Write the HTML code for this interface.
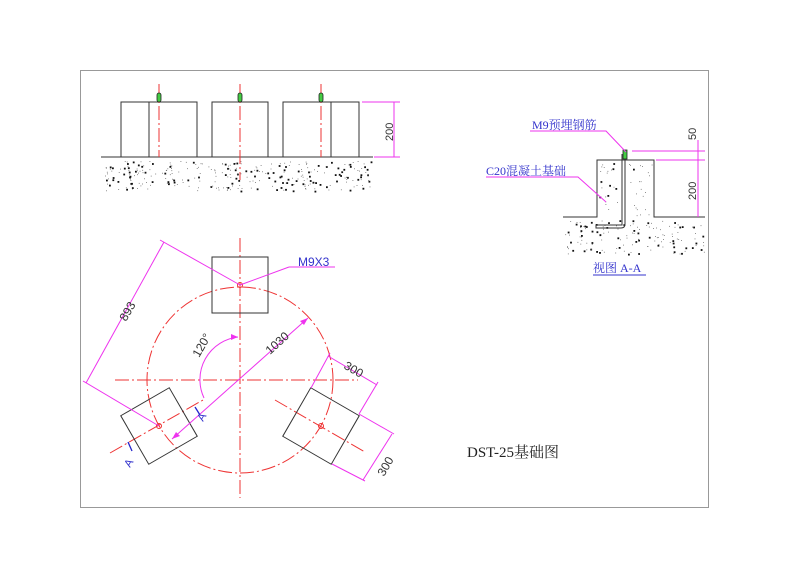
<!DOCTYPE html>
<html><head><meta charset="utf-8"><style>html,body{margin:0;padding:0;background:#fff}svg{display:block}</style></head><body>
<svg id="s" width="800" height="565" viewBox="0 0 800 565" xmlns="http://www.w3.org/2000/svg" font-family="Liberation Sans, sans-serif">
<rect x="80.5" y="70.5" width="628" height="437" fill="none" stroke="#999" stroke-width="1"/>
<g id="grav"></g>
<g stroke="#333" fill="none" stroke-width="1">
<line x1="101" y1="157" x2="373" y2="157"/>
<rect x="121" y="102" width="76" height="55"/><line x1="149" y1="102" x2="149" y2="157"/>
<rect x="212" y="102" width="56" height="55"/>
<rect x="283" y="102" width="76" height="55"/><line x1="331" y1="102" x2="331" y2="157"/>
</g>
<g stroke="#e33" stroke-width="1" stroke-dasharray="14,3,2,3">
<line x1="159" y1="84" x2="159" y2="157"/><line x1="240" y1="84" x2="240" y2="180"/><line x1="321" y1="84" x2="321" y2="157"/>
</g>
<g fill="#4c4" stroke="#222" stroke-width="0.8">
<rect x="157" y="93" width="4" height="9" rx="2"/><rect x="238" y="93" width="4" height="9" rx="2"/><rect x="319" y="93" width="4" height="9" rx="2"/>
</g>
<g stroke="#e3e" stroke-width="1">
<line x1="362" y1="102" x2="400" y2="102"/><line x1="374" y1="157" x2="400" y2="157"/><line x1="394" y1="102" x2="394" y2="157"/>
</g>
<text x="0" y="0" font-size="11" fill="#333" transform="translate(393,141) rotate(-90)">200</text>
<g stroke="#e33" fill="none" stroke-width="1" stroke-dasharray="14,3,2,3">
<circle cx="240" cy="380" r="93"/>
<line x1="240" y1="238" x2="240" y2="498"/>
<line x1="115" y1="380" x2="358" y2="380"/>
<line x1="110" y1="453" x2="203" y2="400"/>
<line x1="275" y1="400" x2="365" y2="452"/>
</g>
<g stroke="#333" fill="none" stroke-width="1">
<rect x="212" y="257" width="56" height="56"/>
<rect x="131" y="398" width="56" height="56" transform="rotate(-30 159 426)"/>
<rect x="293" y="398" width="56" height="56" transform="rotate(30 321 426)"/>
</g>
<g stroke="#e33" fill="none" stroke-width="1"><circle cx="240" cy="285" r="2.5"/><circle cx="159" cy="426" r="2.5"/><circle cx="321" cy="426" r="2.5"/></g>
<g stroke="#e3e" fill="none" stroke-width="1">
<line x1="240" y1="285" x2="289" y2="267"/><line x1="289" y1="267" x2="335" y2="267"/>
<line x1="172" y1="439" x2="308" y2="318"/>
<line x1="86" y1="383" x2="164" y2="242"/>
<line x1="160" y1="240" x2="240" y2="285"/><line x1="83" y1="381" x2="159" y2="426"/>
<path d="M238 337 A43 43 0 0 0 204 398"/>
<line x1="328" y1="356" x2="377" y2="385"/><line x1="311" y1="388" x2="330" y2="353"/><line x1="359" y1="414" x2="378" y2="382"/>
<line x1="392" y1="434" x2="363" y2="480"/><line x1="359" y1="414" x2="394" y2="434"/><line x1="332" y1="464" x2="365" y2="481"/>
</g>
<g fill="#e3e"><path d="M238 337 L231 334 L231 340Z"/><path d="M172 439 L180 436 L176 432Z"/><path d="M308 318 L300 321 L304 325Z"/></g>
<g font-size="12" fill="#333">
<text transform="translate(126,322) rotate(-60)">893</text>
<text transform="translate(270,355) rotate(-42)">1030</text>
<text transform="translate(199,358) rotate(-60)">120°</text>
<text transform="translate(343,368) rotate(30)">300</text>
<text transform="translate(384,477) rotate(-60)">300</text>
</g>
<text x="298" y="266" font-size="12" fill="#33c">M9X3</text>
<g stroke="#22c" stroke-width="1.3"><line x1="195" y1="407" x2="200" y2="415"/><line x1="128" y1="442" x2="132" y2="451"/></g>
<g font-size="11" fill="#33c"><text transform="translate(203,422) rotate(-60)">A</text><text transform="translate(130,468) rotate(-60)">A</text></g>
<g stroke="#333" fill="none" stroke-width="1">
<polyline points="563,217 597,217 597,160 654,160 654,217 705,217"/>
<path d="M625 154 L625 224 Q625 228 621 228 L596 228 L596 225 L622 225 L622 154"/>
</g>
<rect x="623" y="150" width="4" height="9" fill="#4c4" stroke="#222" stroke-width="0.8"/>
<g stroke="#e3e" stroke-width="1" fill="none">
<line x1="632" y1="151" x2="705" y2="151"/><line x1="656" y1="160" x2="705" y2="160"/><line x1="698" y1="140" x2="698" y2="217"/>
<polyline points="530,131 606,131 626,152"/><polyline points="486,177 578,177 606,202"/>
</g>
<g font-size="11" fill="#333"><text transform="translate(696,140) rotate(-90)">50</text><text transform="translate(696,200) rotate(-90)">200</text></g>
<g font-family="Liberation Serif, Noto Serif CJK SC, serif" fill="#33c" font-size="12">
<text x="532" y="129">M9预埋钢筋</text>
<text x="486" y="175">C20混凝土基础</text>
<text x="593" y="272">视图 A-A</text>
</g>
<line x1="593" y1="275" x2="646" y2="275" stroke="#33c"/>
<text x="467" y="457" font-family="Liberation Serif, Noto Serif CJK SC, serif" font-size="15" fill="#222">DST-25基础图</text>
</svg>
<script>
(function(){var g=document.getElementById('grav'),s=7,NS='http://www.w3.org/2000/svg';
function r(){s=(s*9301+49297)%233280;return s/233280;}
function fill(x0,y0,w,h,n,ok){for(var i=0;i<n;i++){var x=x0+r()*w,y=y0+r()*h,big=r()<0.3;if(ok&&!ok(x,y))continue;var e=document.createElementNS(NS,'rect');e.setAttribute('x',x.toFixed(1));e.setAttribute('y',y.toFixed(1));var z=big?1.8:0.8;e.setAttribute('width',z);e.setAttribute('height',z);e.setAttribute('fill',big?'#111':'#555');g.appendChild(e);}}
fill(105,161,266,30,300);
fill(565,220,140,34,140);
fill(599,163,53,53,60,function(x,y){return !(x>619&&x<628);});
})();
</script>
</body></html>
